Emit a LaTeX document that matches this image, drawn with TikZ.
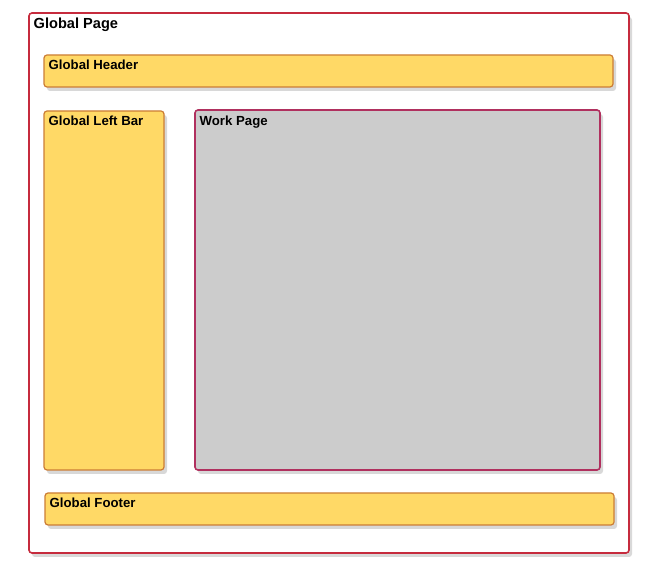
\documentclass[tikz,border=0pt]{standalone}
\usepackage{fontspec}
\setmainfont{Liberation Sans}
\usetikzlibrary{calc, positioning}
\usetikzlibrary{shadows}

\definecolor{pagered}{HTML}{C62B3D}
\definecolor{workred}{HTML}{B0305E}
\definecolor{baryellow}{HTML}{FFD966}
\definecolor{barorange}{HTML}{CC7D35}
\definecolor{workgray}{HTML}{CCCCCC}

\tikzset{
  frame/.style={rounded corners=3pt, line width=1.6pt,
    drop shadow={shadow xshift=3pt, shadow yshift=-4pt, opacity=0.3}},
  pagebox/.style={frame, draw=pagered, fill=white},
  barbox/.style={frame, draw=barorange, fill=baryellow, line width=1.2pt},
  workbox/.style={frame, draw=workred, fill=workgray},
  title/.style={anchor=north west, inner sep=0pt, font=\bfseries\fontsize{13.2}{15}\selectfont}
}

\begin{document}
\begin{tikzpicture}[x=1pt, y=-1pt]
\useasboundingbox (0,0) rectangle (657,569);

% outer page
\draw[pagebox] (29,13) rectangle (629,553);
\node[title, font=\bfseries\fontsize{14.6}{17}\selectfont] (page) at (33.5,18) {Global Page};

% header
\draw[barbox] (44,55) rectangle (613,87);
\node[title] (header) at (48.5,60) {Global Header};

% left bar
\draw[barbox] (44,111) rectangle (164,470);
\node[title] (leftbar) at (48.5,116) {Global Left Bar};

% work area
\draw[workbox] (195,110) rectangle (600,470);
\node[title] (work) at (199.5,116) {Work Page};

% footer
\draw[barbox] (45,493) rectangle (614,525);
\node[title] (footer) at (49.5,498) {Global Footer};
\end{tikzpicture}
\end{document}
